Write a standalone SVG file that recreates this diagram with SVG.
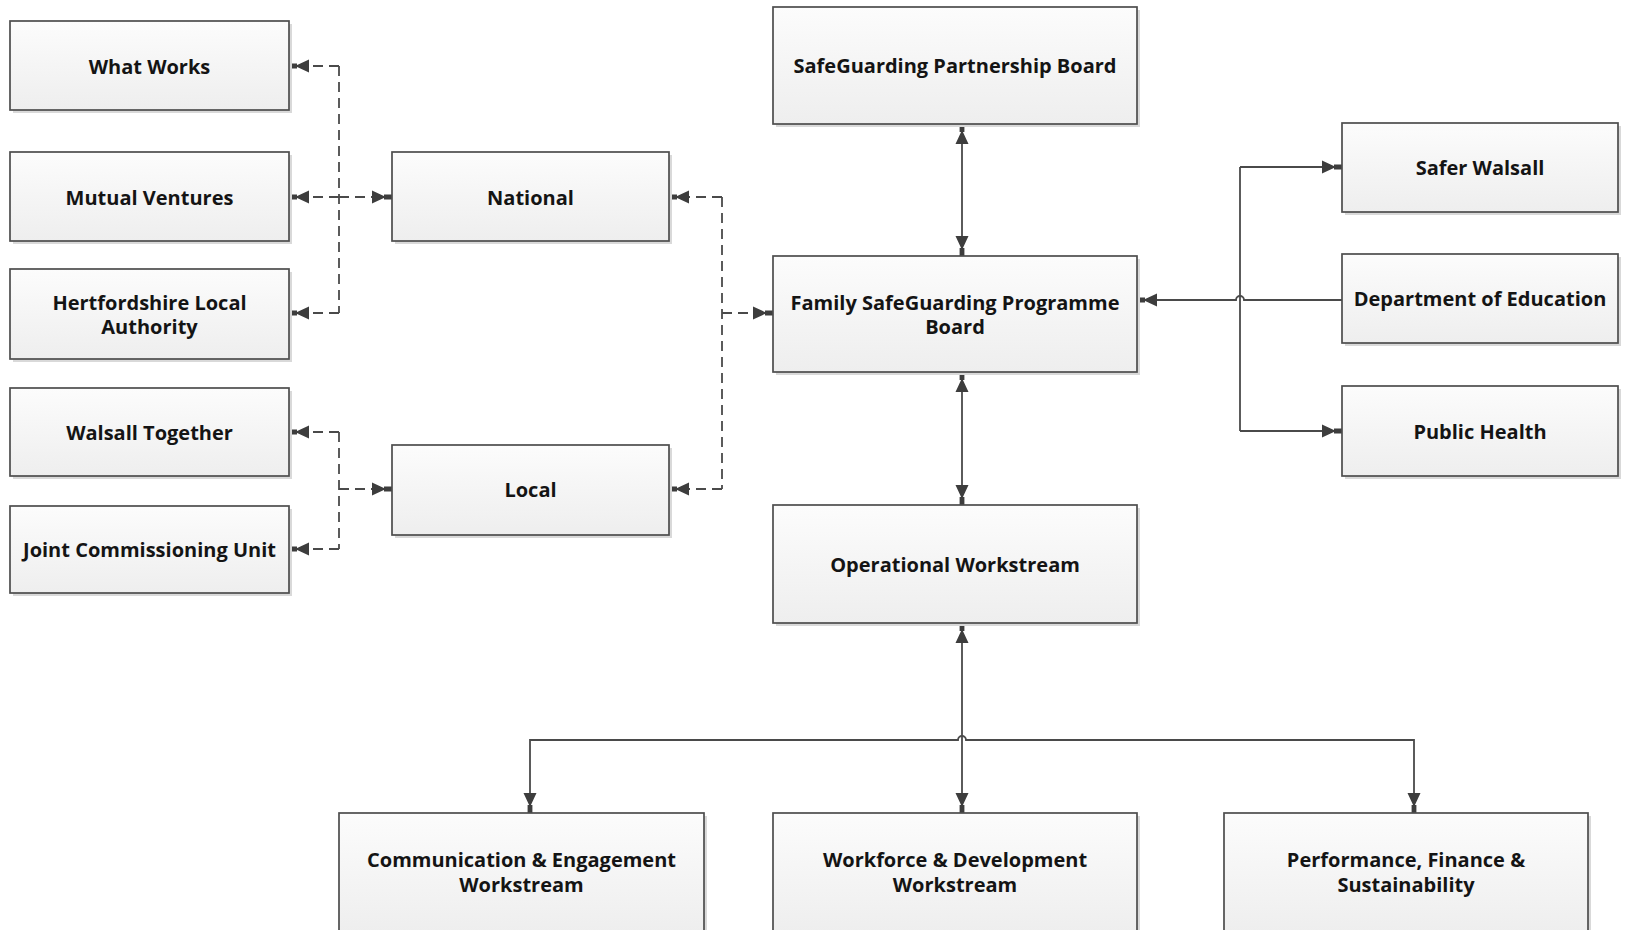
<svg xmlns="http://www.w3.org/2000/svg" width="1626" height="930" viewBox="0 0 1626 930">
<style>
.box{fill:url(#g);stroke:#4d4d4d;stroke-width:1.7}
.sh{fill:#d9d9d9}
.t{font-family:"Open Sans","Liberation Sans",sans-serif;font-size:20px;font-weight:700;fill:#141414;text-anchor:middle;dominant-baseline:central}
.c{fill:none;stroke:#4a4a4a;stroke-width:1.8}
.d{stroke-dasharray:10 6}
</style>
<defs>
<linearGradient id="g" x1="0" y1="0" x2="0" y2="1">
<stop offset="0" stop-color="#fcfcfc"/>
<stop offset="1" stop-color="#eeeeee"/>
</linearGradient>
<marker id="a" markerUnits="userSpaceOnUse" markerWidth="22" markerHeight="16" refX="21" refY="8" orient="auto-start-reverse" viewBox="0 0 22 16" overflow="visible">
<path d="M1,1.5 L15,8 L1,14.5 Z M13,5.6 H21 V10.4 H13 Z" fill="#3d3d3d"/>
</marker>
</defs>
<rect width="1626" height="930" fill="#ffffff"/>

<g id="connectors">
<path class="c d" d="M339,66 V313" />
<path class="c d" d="M339,66 H289" marker-end="url(#a)"/>
<path class="c d" d="M339,197 H289" marker-end="url(#a)"/>
<path class="c d" d="M339,313 H289" marker-end="url(#a)"/>
<path class="c d" d="M339,197 H392" marker-end="url(#a)"/>
<path class="c d" d="M339,432 V549" />
<path class="c d" d="M339,432 H289" marker-end="url(#a)"/>
<path class="c d" d="M339,549 H289" marker-end="url(#a)"/>
<path class="c d" d="M339,489 H392" marker-end="url(#a)"/>
<path class="c d" d="M722,197 V489" />
<path class="c d" d="M722,197 H669" marker-end="url(#a)"/>
<path class="c d" d="M722,489 H669" marker-end="url(#a)"/>
<path class="c d" d="M722,313 H773" marker-end="url(#a)"/>
<path class="c" d="M962,124 V256" marker-start="url(#a)" marker-end="url(#a)"/>
<path class="c" d="M962,372 V505" marker-start="url(#a)" marker-end="url(#a)"/>
<path class="c" d="M962,623 V813" marker-start="url(#a)" marker-end="url(#a)"/>
<path class="c" d="M530,813 V740 H958 A4,4 0 0 1 966,740 H1414 V813" marker-start="url(#a)" marker-end="url(#a)"/>
<path class="c" d="M1240,167 V431" />
<path class="c" d="M1240,167 H1342" marker-end="url(#a)"/>
<path class="c" d="M1240,431 H1342" marker-end="url(#a)"/>
<path class="c" d="M1342,300 H1244 A4,4 0 0 0 1236,300 H1137" marker-end="url(#a)"/>
</g>

<g id="what-works"><rect class="sh" x="13" y="24" width="279" height="89"/><rect class="box" x="10" y="21" width="279" height="89"/><text class="t" x="149.5" y="66">What Works</text></g>
<g id="mutual-ventures"><rect class="sh" x="13" y="155" width="279" height="89"/><rect class="box" x="10" y="152" width="279" height="89"/><text class="t" x="149.5" y="197">Mutual Ventures</text></g>
<g id="hertfordshire"><rect class="sh" x="13" y="272" width="279" height="90"/><rect class="box" x="10" y="269" width="279" height="90"/><text class="t" x="149.5" y="302">Hertfordshire Local</text><text class="t" x="149.5" y="326">Authority</text></g>
<g id="walsall-together"><rect class="sh" x="13" y="391" width="279" height="88"/><rect class="box" x="10" y="388" width="279" height="88"/><text class="t" x="149.5" y="432">Walsall Together</text></g>
<g id="joint-commissioning"><rect class="sh" x="13" y="509" width="279" height="87"/><rect class="box" x="10" y="506" width="279" height="87"/><text class="t" x="149.5" y="549">Joint Commissioning Unit</text></g>

<g id="national"><rect class="sh" x="395" y="155" width="277" height="89"/><rect class="box" x="392" y="152" width="277" height="89"/><text class="t" x="530.5" y="197">National</text></g>
<g id="local"><rect class="sh" x="395" y="448" width="277" height="90"/><rect class="box" x="392" y="445" width="277" height="90"/><text class="t" x="530.5" y="489">Local</text></g>

<g id="safeguarding-partnership"><rect class="sh" x="776" y="10" width="364" height="117"/><rect class="box" x="773" y="7" width="364" height="117"/><text class="t" x="955" y="65">SafeGuarding Partnership Board</text></g>
<g id="family-safeguarding"><rect class="sh" x="776" y="259" width="364" height="116"/><rect class="box" x="773" y="256" width="364" height="116"/><text class="t" x="955" y="302">Family SafeGuarding Programme</text><text class="t" x="955" y="326">Board</text></g>
<g id="operational"><rect class="sh" x="776" y="508" width="364" height="118"/><rect class="box" x="773" y="505" width="364" height="118"/><text class="t" x="955" y="564">Operational Workstream</text></g>

<g id="safer-walsall"><rect class="sh" x="1345" y="126" width="276" height="89"/><rect class="box" x="1342" y="123" width="276" height="89"/><text class="t" x="1480" y="167">Safer Walsall</text></g>
<g id="dept-education"><rect class="sh" x="1345" y="257" width="276" height="89"/><rect class="box" x="1342" y="254" width="276" height="89"/><text class="t" x="1480" y="298">Department of Education</text></g>
<g id="public-health"><rect class="sh" x="1345" y="389" width="276" height="90"/><rect class="box" x="1342" y="386" width="276" height="90"/><text class="t" x="1480" y="431">Public Health</text></g>

<g id="communication"><rect class="sh" x="342" y="816" width="365" height="120"/><rect class="box" x="339" y="813" width="365" height="120"/><text class="t" x="521.5" y="859">Communication &amp; Engagement</text><text class="t" x="521.5" y="884">Workstream</text></g>
<g id="workforce"><rect class="sh" x="776" y="816" width="364" height="120"/><rect class="box" x="773" y="813" width="364" height="120"/><text class="t" x="955" y="859">Workforce &amp; Development</text><text class="t" x="955" y="884">Workstream</text></g>
<g id="performance"><rect class="sh" x="1227" y="816" width="364" height="120"/><rect class="box" x="1224" y="813" width="364" height="120"/><text class="t" x="1406" y="859">Performance, Finance &amp;</text><text class="t" x="1406" y="884">Sustainability</text></g>
</svg>
